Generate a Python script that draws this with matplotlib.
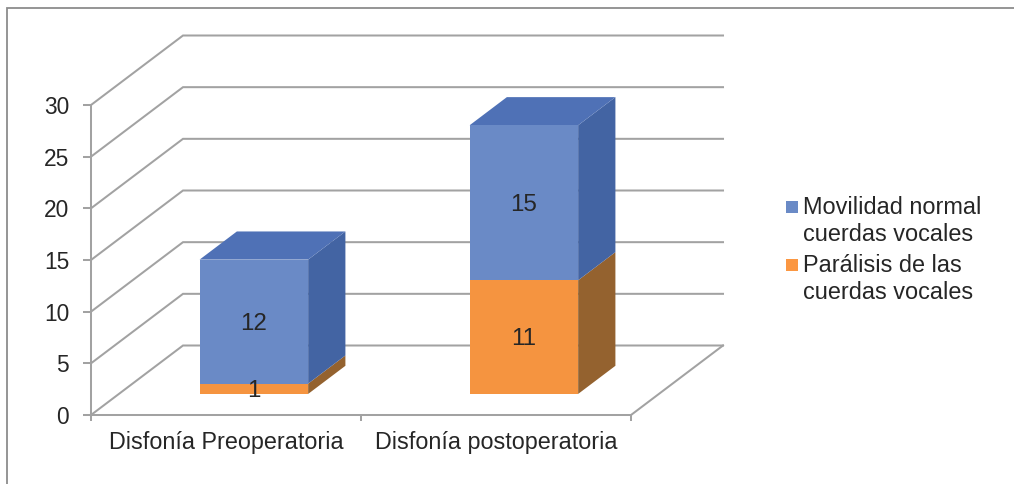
# _*_ coding: utf-8 _*_
import numpy as np
import matplotlib
matplotlib.use("Agg")
import matplotlib.pyplot as plt
from matplotlib.lines import Line2D
from matplotlib.patches import Polygon, Rectangle

plt.rcParams['font.family'] = ['Liberation Sans', 'DejaVu Sans']

categories = ["Disfonía Preoperatoria", "Disfonía postoperatoria"]
paralisis = [1, 11]
movilidad = [12, 15]
y_ticks = [0, 5, 10, 15, 20, 25, 30]
legend_labels = ["Movilidad normal\ncuerdas vocales", "Parálisis de las\ncuerdas vocales"]

W, H = 1014, 484
GRID = "#a2a2a2"
TEXT = "#262626"
LW = 1.45

fig = plt.figure(figsize=(W / 100, H / 100), dpi=100, facecolor="white")

# front plane of the 3d box, the rest is projected from it
left, right, top, bottom = 91, 631, 105, 415
ax = fig.add_axes([left / W, 1 - bottom / H, (right - left) / W, (bottom - top) / H])
ax.set_xlim(-0.5, 1.5)
ax.set_ylim(0, 30)
ax.patch.set_alpha(0)

# how far the back wall sits from the front plane, in data units
depth_x = 92 / 270
depth_y = 69.5 / (310 / 30)


def project(x, v, d):
    return (x + d * depth_x, v + d * depth_y)


# walls and floor
for v in y_ticks:
    xs, ys = zip(project(-0.5, v, 0), project(-0.5, v, 1), project(1.5, v, 1))
    ax.plot(xs, ys, color=GRID, lw=LW, clip_on=False, zorder=1, solid_joinstyle="miter")
xs, ys = zip(project(1.5, 0, 0), project(1.5, 0, 1))
ax.plot(xs, ys, color=GRID, lw=LW, clip_on=False, zorder=1)


def box(x0, x1, v0, v1, d0, d1, front, side, roof=None):
    front_pts = [project(x0, v0, d0), project(x1, v0, d0), project(x1, v1, d0), project(x0, v1, d0)]
    side_pts = [project(x1, v0, d0), project(x1, v0, d1), project(x1, v1, d1), project(x1, v1, d0)]
    ax.add_patch(Polygon(side_pts, fc=side, ec="none", clip_on=False, zorder=3))
    ax.add_patch(Polygon(front_pts, fc=front, ec="none", clip_on=False, zorder=4))
    if roof:
        roof_pts = [project(x0, v1, d0), project(x1, v1, d0), project(x1, v1, d1), project(x0, v1, d1)]
        ax.add_patch(Polygon(roof_pts, fc=roof, ec="none", clip_on=False, zorder=3))


bar_w = 0.402
d0, d1 = 0.303, 0.708
for i in range(len(categories)):
    p, m = paralisis[i], movilidad[i]
    box(i - bar_w / 2, i + bar_w / 2, 0, p, d0, d1, "#f59440", "#94622f")
    box(i - bar_w / 2, i + bar_w / 2, p, p + m, d0, d1, "#6a8ac6", "#4364a3", "#4f71b6")
    # value labels sit in the middle of each front face
    for val, base in ((p, 0), (m, p)):
        ax.annotate(str(val), project(i, base + val / 2, d0), xytext=(0, -1.4), textcoords="offset points",
                    ha="center", va="center", fontsize=17.4, color=TEXT, zorder=6, annotation_clip=False)

# axis lines and ticks
for s in ("top", "right"):
    ax.spines[s].set_visible(False)
for s in ("left", "bottom"):
    ax.spines[s].set_color(GRID)
    ax.spines[s].set_linewidth(LW)
ax.set_yticks(y_ticks)
ax.tick_params(axis="y", length=5.8, width=LW, color=GRID, pad=10, labelsize=16.4, labelcolor=TEXT)
ax.set_xticks([-0.5, 0.5, 1.5])
ax.set_xticklabels([])
ax.tick_params(axis="x", which="major", length=4.5, width=LW, color=GRID)
ax.set_xticks([0, 1], minor=True)
ax.set_xticklabels(categories, minor=True)
ax.tick_params(axis="x", which="minor", length=0, pad=11.6, labelsize=16.85, labelcolor=TEXT)

# legend
legend_colors = ["#6a8ac6", "#fb9742"]
legend_tops = [201, 259]
for label, color, y in zip(legend_labels, legend_colors, legend_tops):
    fig.add_artist(Rectangle((786 / W, 1 - (y + 12) / H), 12 / W, 12 / H, fc=color, ec="none",
                             transform=fig.transFigure))
    fig.text(803 / W, 1 - (y - 5) / H, label, ha="left", va="top", fontsize=16.9, color=TEXT,
             linespacing=1.2)

# outer frame, open on the right and at the bottom
fig.add_artist(Line2D([6.5 / W, 6.5 / W, 1], [0, 1 - 7.5 / H, 1 - 7.5 / H], color="#8c8c8c", lw=1.3,
                      transform=fig.transFigure, solid_joinstyle="miter"))

fig.savefig("out.png", dpi=100, facecolor="white")
